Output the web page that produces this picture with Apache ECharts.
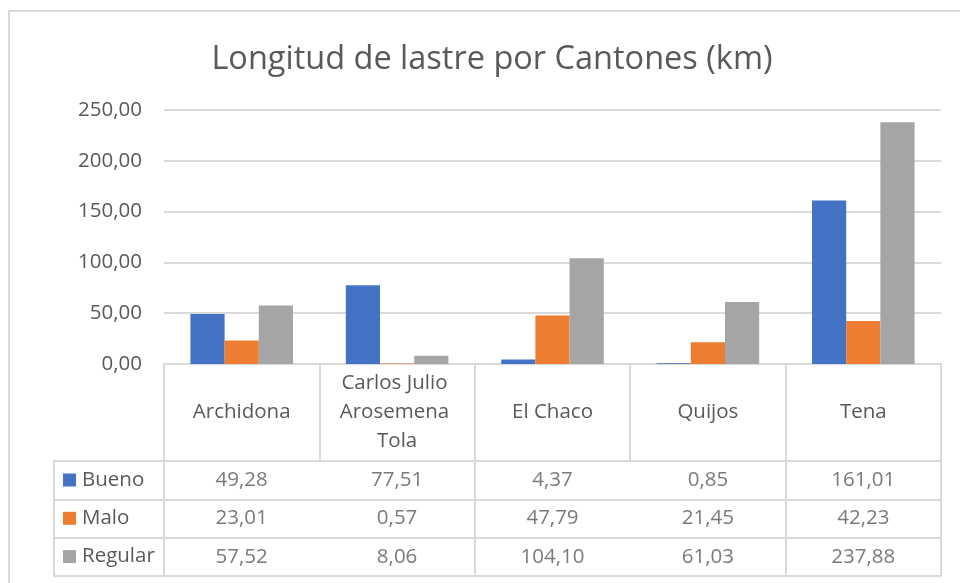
<!DOCTYPE html>
<html lang="es">
<head>
    <meta charset="UTF-8">
    <title>Longitud de lastre por Cantones (km)</title>
    <script src="https://cdn.jsdelivr.net/npm/echarts@6/dist/echarts.min.js"></script>
    <style>
        html, body { margin: 0; padding: 0; background: #fff; }
    </style>
</head>
<body>
    <div id="chart" style="width: 960px;height: 583px"></div>
<script>
    // datos
    var cantones = ['Archidona', 'Carlos Julio Arosemena Tola', 'El Chaco', 'Quijos', 'Tena'];
    var estados = ['Bueno', 'Malo', 'Regular'];
    var bueno = [49.28, 77.51, 4.37, 0.85, 161.01];
    var malo = [23.01, 0.57, 47.79, 21.45, 42.23];
    var regular = [57.52, 8.06, 104.10, 61.03, 237.88];
    var yTicks = [0, 50, 100, 150, 200, 250];

    var colores = ['#4472C4', '#ED7D31', '#A5A5A5'];
    var texto = '#595959';
    var linea = '#D9D9D9';
    var fuente = 'Open Sans';
    var tam = 20.5;

    function coma(v) {
        return Number(v).toFixed(2).replace('.', ',');
    }

    var valores = [bueno, malo, regular];
    // celdas de la tabla: [columna, fila, valor]
    var celdas = [];
    for (var r = 0; r < valores.length; r++) {
        for (var c = 0; c < cantones.length; c++) {
            celdas.push([c, r, valores[r][c]]);
        }
    }

    var chart = echarts.init(document.getElementById('chart'));

    var barras = estados.map(function (nombre, i) {
        return {
            name: nombre,
            type: 'bar',
            xAxisIndex: 0,
            yAxisIndex: 0,
            data: valores[i],
            itemStyle: { color: colores[i] },
            barGap: '0%',
            barCategoryGap: '34%',
            animation: false
        };
    });

    var option = {
        textStyle: { fontFamily: fuente },
        title: {
            text: 'Longitud de lastre por Cantones (km)',
            left: 487,
            top: 38,
            textAlign: 'center',
            textStyle: { fontFamily: fuente, fontSize: 32.5, fontWeight: 'normal', color: texto }
        },
        graphic: [{
            type: 'rect',
            shape: { x: 9, y: 11, width: 990, height: 620 },
            style: { fill: 'none', stroke: linea, lineWidth: 2 },
            silent: true
        }],
        legend: {
            data: estados,
            orient: 'vertical',
            left: 58,
            top: 464,
            itemWidth: 13,
            itemHeight: 13,
            itemGap: 16.3,
            icon: 'rect',
            selectedMode: false,
            textStyle: { fontFamily: fuente, fontSize: tam, color: texto, lineHeight: 22, padding: [0, 0, 0, 1] }
        },
        grid: [
            { left: 164, right: 19, top: 110, height: 254 },   // barras
            { left: 164, right: 19, top: 461, height: 115 },   // valores de la tabla
            { left: 54, width: 110, top: 461, height: 115 }    // columna de leyenda
        ],
        xAxis: [
            {
                type: 'category',
                gridIndex: 0,
                data: cantones,
                axisLine: { show: true, lineStyle: { color: linea, width: 2 } },
                axisTick: { show: true, length: 97, interval: 0, lineStyle: { color: linea, width: 2 } },
                axisLabel: {
                    interval: 0,
                    margin: 48.5,
                    verticalAlign: 'middle',
                    fontFamily: fuente,
                    fontSize: tam,
                    lineHeight: 29,
                    color: texto,
                    width: 130,
                    overflow: 'break'
                }
            },
            {
                type: 'category',
                gridIndex: 1,
                data: cantones,
                axisLine: { show: false },
                axisTick: { show: false },
                axisLabel: { show: false },
                splitLine: { show: true, lineStyle: { color: linea, width: 2 } }
            },
            {
                type: 'value',
                gridIndex: 2,
                show: false
            }
        ],
        yAxis: [
            {
                type: 'value',
                gridIndex: 0,
                min: yTicks[0],
                max: yTicks[yTicks.length - 1],
                interval: 50,
                axisLine: { show: false },
                axisTick: { show: false },
                axisLabel: {
                    margin: 22,
                    fontFamily: fuente,
                    fontSize: tam,
                    color: texto,
                    formatter: function (v) { return coma(v); }
                },
                splitLine: { lineStyle: { color: linea, width: 2 } }
            },
            {
                type: 'category',
                gridIndex: 1,
                data: estados,
                inverse: true,
                axisLine: { show: false },
                axisTick: { show: false },
                axisLabel: { show: false },
                splitLine: { show: true, lineStyle: { color: linea, width: 2 } }
            },
            {
                type: 'category',
                gridIndex: 2,
                data: estados,
                inverse: true,
                axisLine: { show: true, lineStyle: { color: linea, width: 2 } },
                axisTick: { show: false },
                axisLabel: { show: false },
                splitLine: { show: true, lineStyle: { color: linea, width: 2 } }
            }
        ],
        series: barras.concat([{
            name: 'tabla',
            type: 'scatter',
            xAxisIndex: 1,
            yAxisIndex: 1,
            data: celdas,
            symbolSize: 1,
            itemStyle: { color: 'rgba(0,0,0,0)' },
            silent: true,
            animation: false,
            label: {
                show: true,
                position: 'inside',
                fontFamily: fuente,
                fontSize: tam,
                color: texto,
                formatter: function (p) { return coma(p.value[2]); }
            }
        }])
    };

    chart.setOption(option);
</script>
</body>
</html>
